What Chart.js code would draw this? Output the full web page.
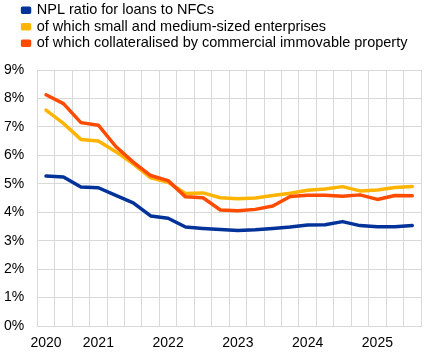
<!DOCTYPE html>
<html>
<head>
<meta charset="utf-8">
<script src="https://cdn.jsdelivr.net/npm/chart.js@4"></script>
<style>
  html, body { margin: 0; padding: 0; background: #fff; }
  #wrap { width: 446px; height: 356px; }
</style>
</head>
<body>
<div id="wrap"><canvas id="c" width="446" height="356"></canvas></div>
<script>
// Quarterly observations (22 periods)
const quarters = ['2019Q4','2020Q1','2020Q2','2020Q3','2020Q4','2021Q1','2021Q2','2021Q3','2021Q4','2022Q1','2022Q2','2022Q3','2022Q4','2023Q1','2023Q2','2023Q3','2023Q4','2024Q1','2024Q2','2024Q3','2024Q4','2025Q1'];
// Year labels shown under the axis
const tickLabels = ['2020','','','2021','','','','2022','','','','2023','','','','2024','','','','2025','',''];

const seriesNames = [
  'NPL ratio for loans to NFCs',
  'of which small and medium-sized enterprises',
  'of which collateralised by commercial immovable property'
];
const nplNFC = [5.27, 5.24, 4.89, 4.86, 4.59, 4.33, 3.87, 3.79, 3.48, 3.43, 3.39, 3.36, 3.38, 3.43, 3.48, 3.55, 3.56, 3.67, 3.53, 3.49, 3.49, 3.53];
const nplSME = [7.59, 7.12, 6.56, 6.50, 6.13, 5.70, 5.21, 5.05, 4.66, 4.68, 4.51, 4.47, 4.50, 4.59, 4.67, 4.77, 4.82, 4.90, 4.75, 4.78, 4.87, 4.90];
const nplCRE = [8.13, 7.82, 7.15, 7.06, 6.31, 5.76, 5.29, 5.11, 4.54, 4.51, 4.08, 4.05, 4.10, 4.22, 4.55, 4.60, 4.60, 4.56, 4.61, 4.45, 4.59, 4.58];

const colors = ['#003299', '#FFB400', '#FF4B00'];

Chart.defaults.font.family = '"Liberation Sans", Arial, sans-serif';
Chart.defaults.font.size = 14;
Chart.defaults.color = '#000';

const legendTweak = {
  id: 'legendTweak',
  beforeInit(chart) {
    const lg = chart.legend;
    if (lg) {
      const origFit = lg.fit;
      lg.fit = function () {
        origFit.call(this);
        this.height += 9.4;
      };
    }
  },
  afterLayout(chart) {
    const lg = chart.legend;
    if (lg) { lg.left += 16.4; lg.right += 16.4; }
  }
};

new Chart(document.getElementById('c'), {
  type: 'line',
  data: {
    labels: quarters,
    datasets: [
      { label: seriesNames[0], data: nplNFC, borderColor: colors[0], backgroundColor: colors[0], order: 2 },
      { label: seriesNames[1], data: nplSME, borderColor: colors[1], backgroundColor: colors[1], order: 1 },
      { label: seriesNames[2], data: nplCRE, borderColor: colors[2], backgroundColor: colors[2], order: 0 }
    ]
  },
  options: {
    responsive: false,
    animation: false,
    devicePixelRatio: 1,
    layout: { padding: { left: 4, right: 25, top: 0.8, bottom: 0 } },
    elements: {
      line: { borderWidth: 3.5, tension: 0, borderJoinStyle: 'round', borderCapStyle: 'round', fill: false },
      point: { radius: 0, hoverRadius: 0 }
    },
    plugins: {
      legend: {
        position: 'top',
        align: 'start',
        labels: {
          boxWidth: 7,
          boxHeight: 4,
          padding: 2.1,
          color: '#000',
          font: { size: 14.5 },
          sort: (a, b) => a.datasetIndex - b.datasetIndex
        }
      },
      tooltip: { enabled: false }
    },
    scales: {
      x: {
        offset: true,
        grid: { display: true, offset: true, color: '#d9d9d9', lineWidth: 1, drawTicks: false },
        border: { display: true, color: '#d9d9d9' },
        ticks: {
          autoSkip: false,
          maxRotation: 0,
          padding: 9,
          callback: (v, i) => tickLabels[i]
        },
        afterFit: (s) => { s.height = 30; }
      },
      y: {
        min: 0,
        max: 9,
        grid: { color: '#d9d9d9', lineWidth: 1, drawTicks: false },
        border: { display: true, color: '#d9d9d9' },
        ticks: {
          stepSize: 1,
          padding: 13,
          callback: v => v + '%'
        },
        afterFit: (s) => { s.width = 33.3; }
      }
    }
  },
  plugins: [legendTweak]
});
</script>
</body>
</html>
